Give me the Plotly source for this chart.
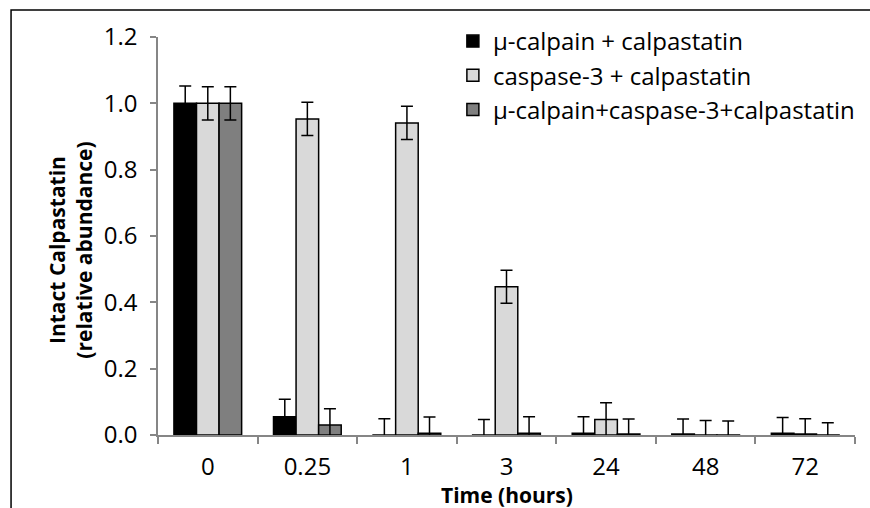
import plotly.graph_objects as go

time_labels = ["0", "0.25", "1", "3", "24", "48", "72"]
series_names = ["μ-calpain + calpastatin", "caspase-3 + calpastatin", "μ-calpain+caspase-3+calpastatin"]
calpain = [1.0, 0.055, -0.002, -0.004, 0.005, 0.003, 0.005]
calpain_err = [0.052, 0.053, 0.051, 0.051, 0.05, 0.045, 0.048]
caspase = [1.0, 0.953, 0.941, 0.447, 0.047, -0.003, 0.003]
caspase_err = [0.05, 0.05, 0.05, 0.05, 0.05, 0.047, 0.046]
combined = [1.0, 0.03, 0.005, 0.005, 0.003, -0.005, -0.005]
combined_err = [0.05, 0.049, 0.049, 0.05, 0.045, 0.047, 0.042]
colors = ["#000000", "#d9d9d9", "#7f7f7f"]

W, H = 870, 508
L, R, T, B = 158, 10, 37, 73
pw, ph = W - L - R, H - T - B

def px_x(x):
    return (x - L) / pw

def px_y(y):
    return (H - B - y) / ph

fig = go.Figure()
for name, vals, errs, col in zip(series_names, [calpain, caspase, combined],
                                 [calpain_err, caspase_err, combined_err], colors):
    fig.add_trace(go.Bar(
        x=time_labels, y=vals, name=name,
        marker=dict(color=col, line=dict(color="#000000", width=1.5)),
        error_y=dict(type="data", array=errs, visible=True, color="#000000",
                     thickness=1.5, width=6),
    ))

font_family = "Open Sans"
fig.update_layout(
    width=W, height=H,
    margin=dict(l=L, r=R, t=T, b=B, pad=0),
    paper_bgcolor="white", plot_bgcolor="white",
    barmode="group", bargap=0.32, bargroupgap=0,
    font=dict(family=font_family, size=24, color="#000000"),
    showlegend=True,
    legend=dict(x=px_x(455), y=px_y(19), xanchor="left", yanchor="top",
                bgcolor="rgba(0,0,0,0)", font=dict(size=24), traceorder="normal"),
    xaxis=dict(type="category", showline=True, linecolor="#868686", linewidth=1.5,
               ticks="outside", tickson="boundaries", ticklen=7, tickcolor="#868686",
               tickwidth=1.5, showgrid=False, zeroline=False, ticklabelstandoff=9),
    yaxis=dict(range=[0, 1.2], dtick=0.2, tickformat=".1f", showline=True,
               linecolor="#868686", linewidth=1.5, ticks="outside", ticklen=6,
               tickcolor="#868686", tickwidth=1.5, showgrid=False, zeroline=False,
               ticklabelstandoff=8),
    annotations=[
        dict(text="<b>Intact Calpastatin<br>(relative abundance)</b>", textangle=-90,
             xref="paper", yref="paper", x=px_x(69), y=px_y(250), xanchor="center",
             yanchor="middle", showarrow=False, font=dict(size=21)),
        dict(text="<b>Time (hours)</b>", xref="paper", yref="paper", x=0.5, y=px_y(495),
             xanchor="center", yanchor="middle", showarrow=False, font=dict(size=21)),
    ],
    shapes=[
        dict(type="rect", xref="paper", yref="paper", x0=px_x(10), x1=px_x(885),
             y0=px_y(525), y1=px_y(10), line=dict(color="#000000", width=1.5),
             fillcolor="rgba(0,0,0,0)", layer="below"),
    ],
)

fig.write_html(
    "out.html",
    config={"displayModeBar": False},
    post_script="document.body.style.margin='0';document.body.style.overflow='hidden';"
                "document.documentElement.style.overflow='hidden';",
)
